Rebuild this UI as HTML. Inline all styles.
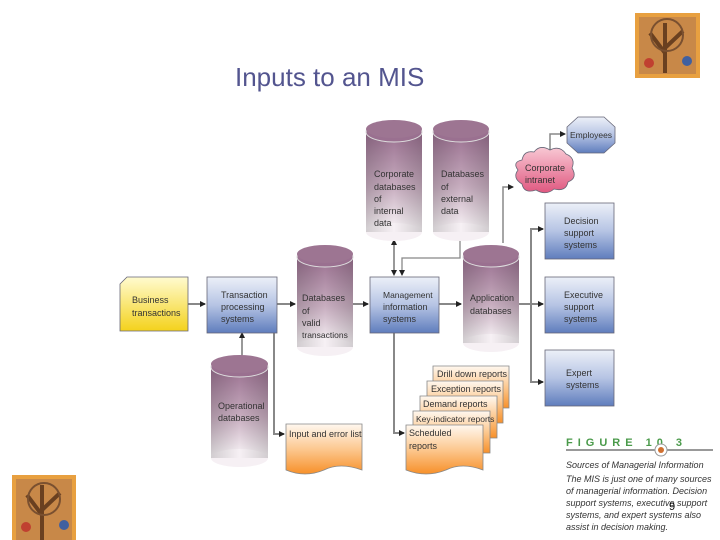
<!DOCTYPE html>
<html><head><meta charset="utf-8"><style>
html,body{margin:0;padding:0;background:#fff;}
svg{display:block;font-family:"Liberation Sans",sans-serif;}
</style></head><body>
<svg width="720" height="540" viewBox="0 0 720 540" xmlns="http://www.w3.org/2000/svg">
<defs>
<linearGradient id="cyl" x1="0" y1="0" x2="0" y2="1"><stop offset="0" stop-color="#9a7090"/><stop offset="0.55" stop-color="#c8aec0"/><stop offset="1" stop-color="#fbf8fa"/></linearGradient>
<linearGradient id="cylside" x1="0" y1="0" x2="1" y2="0"><stop offset="0" stop-color="#000" stop-opacity="0.15"/><stop offset="0.5" stop-color="#000" stop-opacity="0"/><stop offset="1" stop-color="#000" stop-opacity="0.15"/></linearGradient>
<linearGradient id="box" x1="0" y1="0" x2="0" y2="1"><stop offset="0" stop-color="#ecf0f8"/><stop offset="0.5" stop-color="#b6c4e4"/><stop offset="1" stop-color="#5f7dbd"/></linearGradient>
<linearGradient id="yel" x1="0" y1="0" x2="0" y2="1"><stop offset="0" stop-color="#fffbd0"/><stop offset="1" stop-color="#f4d21c"/></linearGradient>
<linearGradient id="org" x1="0" y1="0" x2="0" y2="1"><stop offset="0" stop-color="#fff8f0"/><stop offset="0.5" stop-color="#fcc890"/><stop offset="1" stop-color="#f7902a"/></linearGradient>
<linearGradient id="pink" x1="0" y1="0" x2="0" y2="1"><stop offset="0" stop-color="#f8c8d4"/><stop offset="1" stop-color="#e05880"/></linearGradient>
<marker id="ar" markerWidth="6" markerHeight="6" refX="5" refY="3" orient="auto" markerUnits="userSpaceOnUse"><path d="M0,0 L6,3 L0,6z" fill="#222"/></marker>
<marker id="as" markerWidth="6" markerHeight="6" refX="1" refY="3" orient="auto" markerUnits="userSpaceOnUse"><path d="M6,0 L0,3 L6,6z" fill="#222"/></marker>
</defs>

<text x="235" y="86" font-size="26" fill="#53558f">Inputs to an MIS</text>

<!-- tree images -->
<g transform="translate(635,13)"><rect width="65" height="65" fill="#e8a040"/><rect x="4" y="4" width="57" height="57" fill="#c88848"/><path d="M30,60 L30,30 M30,40 L15,20 M30,35 L48,18 M30,30 L30,10" stroke="#6a4020" stroke-width="4" fill="none"/><circle cx="32" cy="22" r="16" fill="none" stroke="#7a5030" stroke-width="2"/><circle cx="14" cy="50" r="5" fill="#c04030"/><circle cx="52" cy="48" r="5" fill="#4060a0"/></g>
<g transform="translate(12,475)"><rect width="64" height="65" fill="#e8a040"/><rect x="4" y="4" width="56" height="61" fill="#c88848"/><path d="M30,65 L30,30 M30,40 L15,20 M30,35 L48,18 M30,30 L30,10" stroke="#6a4020" stroke-width="4" fill="none"/><circle cx="32" cy="24" r="16" fill="none" stroke="#7a5030" stroke-width="2"/><circle cx="14" cy="52" r="5" fill="#c04030"/><circle cx="52" cy="50" r="5" fill="#4060a0"/></g>

<!-- connectors -->
<g stroke="#888" stroke-width="2" fill="none">
<line x1="188" y1="304" x2="205" y2="304" marker-end="url(#ar)"/>
<line x1="277" y1="304" x2="295" y2="304" marker-end="url(#ar)"/>
<line x1="353" y1="304" x2="368" y2="304" marker-end="url(#ar)"/>
<line x1="439" y1="304" x2="461" y2="304" marker-end="url(#ar)"/>
<line x1="519" y1="304" x2="543" y2="304" marker-end="url(#ar)"/>
<line x1="242" y1="333" x2="242" y2="364" marker-start="url(#as)" marker-end="url(#ar)" stroke="#333" stroke-width="1"/>
<polyline points="274,333 274,434 284,434" marker-end="url(#ar)"/>
<line x1="394" y1="240" x2="394" y2="275" marker-start="url(#as)" marker-end="url(#ar)" stroke="#333" stroke-width="1"/>
<polyline points="460,240 460,258 402,258 402,275" marker-end="url(#ar)" stroke-width="1.3"/>
<polyline points="394,333 394,433 404,433" marker-end="url(#ar)"/>
<polyline points="503,243 503,187 513,187" marker-end="url(#ar)" stroke-width="1.5"/>
<polyline points="550,150 550,134 565,134" marker-end="url(#ar)" stroke-width="1.5"/>
<polyline points="531,350 531,229 543,229" marker-end="url(#ar)"/>
<polyline points="531,350 531,382 543,382" marker-end="url(#ar)"/>
</g>

<!-- cylinders -->
<g font-size="9" fill="#333">
<g>
<rect x="366" y="132" width="56" height="100" fill="url(#cyl)"/><ellipse cx="394" cy="232" rx="28" ry="9" fill="#f6f0f4"/><rect x="366" y="132" width="56" height="100" fill="url(#cylside)"/>
<ellipse cx="394" cy="132" rx="28" ry="10" fill="#9a7090" stroke="#ddd"/><ellipse cx="394" cy="129" rx="28" ry="9" fill="#9d7592"/>
<text x="374" y="177">Corporate</text><text x="374" y="190">databases</text><text x="374" y="202">of</text><text x="374" y="214">internal</text><text x="374" y="226">data</text>
</g>
<g>
<rect x="433" y="132" width="56" height="100" fill="url(#cyl)"/><ellipse cx="461" cy="232" rx="28" ry="9" fill="#f6f0f4"/><rect x="433" y="132" width="56" height="100" fill="url(#cylside)"/>
<ellipse cx="461" cy="132" rx="28" ry="10" fill="#9a7090" stroke="#ddd"/><ellipse cx="461" cy="129" rx="28" ry="9" fill="#9d7592"/>
<text x="441" y="177">Databases</text><text x="441" y="190">of</text><text x="441" y="202">external</text><text x="441" y="214">data</text>
</g>
<g>
<rect x="297" y="257" width="56" height="90" fill="url(#cyl)"/><ellipse cx="325" cy="347" rx="28" ry="9" fill="#f6f0f4"/><rect x="297" y="257" width="56" height="90" fill="url(#cylside)"/>
<ellipse cx="325" cy="257" rx="28" ry="10" fill="#9a7090" stroke="#ddd"/><ellipse cx="325" cy="254" rx="28" ry="9" fill="#9d7592"/>
<text x="302" y="301">Databases</text><text x="302" y="314">of</text><text x="302" y="326">valid</text><text x="302" y="338" font-size="8.5">transactions</text>
</g>
<g>
<rect x="463" y="257" width="56" height="86" fill="url(#cyl)"/><ellipse cx="491" cy="343" rx="28" ry="9" fill="#f6f0f4"/><rect x="463" y="257" width="56" height="86" fill="url(#cylside)"/>
<ellipse cx="491" cy="257" rx="28" ry="10" fill="#9a7090" stroke="#ddd"/><ellipse cx="491" cy="254" rx="28" ry="9" fill="#9d7592"/>
<text x="470" y="301">Application</text><text x="470" y="314">databases</text>
</g>
<g>
<rect x="211" y="367" width="57" height="91" fill="url(#cyl)"/><ellipse cx="239.5" cy="458" rx="28.5" ry="9" fill="#f6f0f4"/><rect x="211" y="367" width="57" height="91" fill="url(#cylside)"/>
<ellipse cx="239.5" cy="367" rx="28.5" ry="10" fill="#9a7090" stroke="#ddd"/><ellipse cx="239.5" cy="364" rx="28.5" ry="9" fill="#9d7592"/>
<text x="218" y="409">Operational</text><text x="218" y="421">databases</text>
</g>
</g>

<!-- boxes -->
<g stroke="#667" stroke-width="0.8">
<path d="M120,284 L127,277 L188,277 L188,331 L120,331z" fill="url(#yel)"/>
<rect x="207" y="277" width="70" height="56" fill="url(#box)"/>
<rect x="370" y="277" width="69" height="56" fill="url(#box)"/>
<rect x="545" y="203" width="69" height="56" fill="url(#box)"/>
<rect x="545" y="277" width="69" height="56" fill="url(#box)"/>
<rect x="545" y="350" width="69" height="56" fill="url(#box)"/>
<path d="M578,117 L604,117 L615,127 L615,143 L604,153 L578,153 L567,143 L567,127z" fill="url(#box)"/>
<path d="M522,160 Q524,150 534,152 Q540,144 550,150 Q560,145 566,154 Q576,158 572,168 Q578,178 568,182 Q566,192 554,189 Q546,196 536,190 Q524,194 522,184 Q512,178 518,170 Q512,162 522,160z" fill="url(#pink)"/>
</g>
<g font-size="9" fill="#333">
<text x="132" y="303">Business</text><text x="132" y="316">transactions</text>
<text x="221" y="298">Transaction</text><text x="221" y="310">processing</text><text x="221" y="322">systems</text>
<text x="383" y="298" font-size="8.5">Management</text><text x="383" y="310">information</text><text x="383" y="322">systems</text>
<text x="564" y="224">Decision</text><text x="564" y="236">support</text><text x="564" y="248">systems</text>
<text x="564" y="298">Executive</text><text x="564" y="310">support</text><text x="564" y="322">systems</text>
<text x="566" y="376">Expert</text><text x="566" y="388">systems</text>
<text x="570" y="138" font-size="8.5">Employees</text>
<text x="525" y="171">Corporate</text><text x="525" y="183">intranet</text>
</g>

<!-- documents -->
<g stroke="#888" stroke-width="0.8">
<path d="M286,424 L362,424 L362,470 Q340,462 324,470 Q305,478 286,470z" fill="url(#org)"/>
<path d="M433,366 L509,366 L509,408 L433,408z" fill="url(#org)"/>
<path d="M427,381 L503,381 L503,423 L427,423z" fill="url(#org)"/>
<path d="M420,396 L497,396 L497,438 L420,438z" fill="url(#org)"/>
<path d="M413,411 L490,411 L490,453 L413,453z" fill="url(#org)"/>
<path d="M406,425 L483,425 L483,470 Q462,462 446,470 Q426,478 406,470z" fill="url(#org)"/>
</g>
<g font-size="9" fill="#333">
<text x="289" y="437">Input and error list</text>
<text x="437" y="377">Drill down reports</text>
<text x="431" y="392">Exception reports</text>
<text x="423" y="407">Demand reports</text>
<text x="416" y="422" font-size="8.5">Key-indicator reports</text>
<text x="409" y="436">Scheduled</text><text x="409" y="449">reports</text>
</g>

<!-- caption -->
<text x="566" y="446" font-size="11" font-weight="bold" fill="#4a9a4a" letter-spacing="5">FIGURE 10 3</text>
<line x1="566" y1="450" x2="713" y2="450" stroke="#333" stroke-width="1"/>
<circle cx="661" cy="450" r="6" fill="#fff" stroke="#999"/><circle cx="661" cy="450" r="3" fill="#d07030"/>
<g font-size="9" font-style="italic" fill="#333">
<text x="566" y="468">Sources of Managerial Information</text>
<text x="566" y="482">The MIS is just one of many sources</text>
<text x="566" y="494">of managerial information. Decision</text>
<text x="566" y="506">support systems, executive support</text>
<text x="566" y="518">systems, and expert systems also</text>
<text x="566" y="530">assist in decision making.</text>
</g>
<text x="669" y="510" font-size="11" fill="#000">9</text>
</svg>
</body></html>
